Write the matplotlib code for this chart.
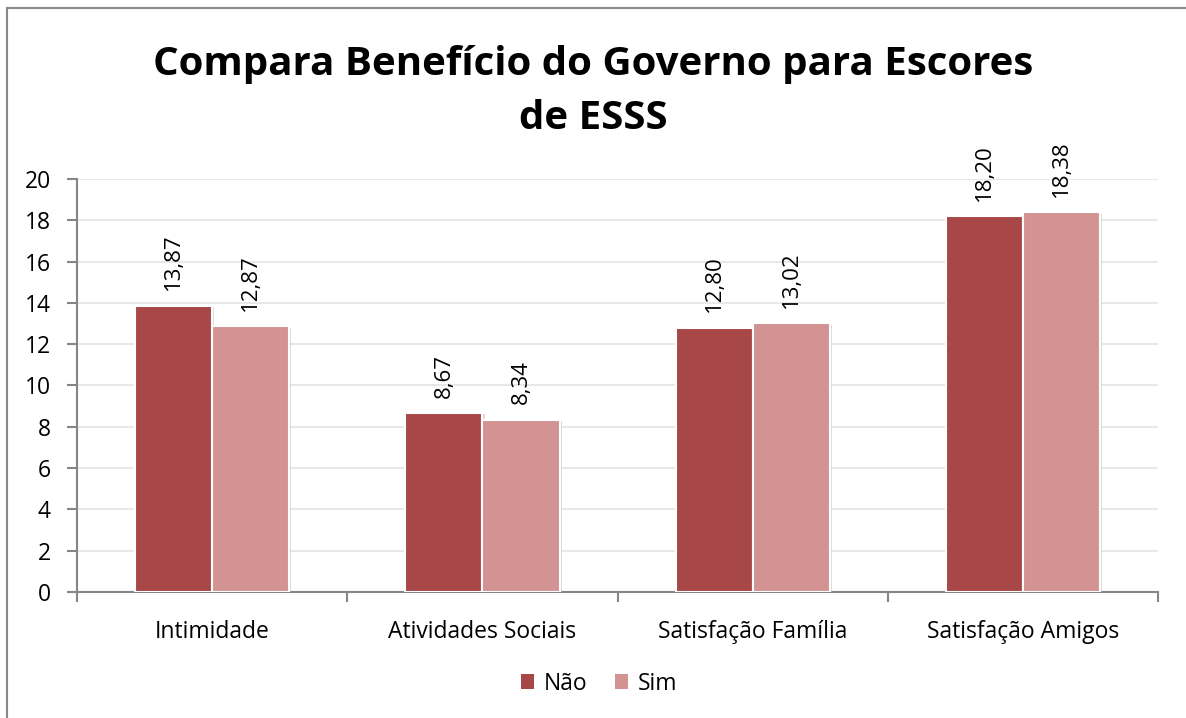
import matplotlib.pyplot as plt
import matplotlib.patheffects as pe
from matplotlib.lines import Line2D
from matplotlib.patches import Patch
import numpy as np

plt.rcParams['font.family'] = ['Open Sans', 'DejaVu Sans']

# mean ESSS scores by government benefit
categorias = ['Intimidade', 'Atividades Sociais', 'Satisfação Família', 'Satisfação Amigos']
nao = [13.87, 8.67, 12.80, 18.20]
sim = [12.87, 8.34, 13.02, 18.38]
series = ['Não', 'Sim']
cores = ['#A84747', '#D39393']

fig = plt.figure(figsize=(11.86, 7.18), dpi=100)
ax = fig.add_axes([0.065, 0.1755, 0.9115, 0.5752])

x = np.arange(len(categorias))
w = 0.285
sombra = [pe.SimplePatchShadow(offset=(1.5, -1), shadow_rgbFace='#BBBBBB', alpha=0.5), pe.Normal()]
for i, (vals, cor) in enumerate(zip([nao, sim], cores)):
    off = (i - 0.5) * w
    bars = ax.bar(x + off, vals, w, color=cor, edgecolor='white', linewidth=1.5, zorder=3)
    for b in bars:
        b.set_path_effects(sombra)
    for xi, v in zip(x + off, vals):
        ax.annotate(f'{v:.2f}'.replace('.', ','), (xi, v), xytext=(0, 11),
                    textcoords='offset points', rotation=90, ha='center', va='bottom',
                    fontsize=16, color='black')

ax.set_xlim(-0.5, len(categorias) - 0.5)
ax.set_ylim(0, 20)
ax.set_yticks(range(0, 21, 2))
ax.set_xticks(x)
ax.set_xticklabels(categorias, fontsize=16.5)
ax.tick_params(axis='x', length=0, pad=20)
ax.set_xticks(np.arange(-0.5, len(categorias), 1), minor=True)
ax.tick_params(axis='x', which='minor', length=7, color='#868686', width=1.5)
ax.tick_params(axis='y', labelsize=16.5, length=7, color='#868686', width=1.5, pad=12)
ax.yaxis.grid(True, color='#E8E8E8', linewidth=1.5, zorder=0)
ax.set_axisbelow(True)
for s in ['top', 'right']:
    ax.spines[s].set_visible(False)
for s in ['left', 'bottom']:
    ax.spines[s].set_color('#868686')
    ax.spines[s].set_linewidth(1.5)

fig.text(0.5, 0.873, 'Compara Benefício do Governo para Escores\nde ESSS', ha='center',
         va='center', fontsize=29, fontweight='bold', linespacing=1.5)

handles = [Patch(facecolor=c, edgecolor='none') for c in cores]
fig.legend(handles, series, loc='center', bbox_to_anchor=(0.505, 0.048), ncol=2,
           frameon=False, fontsize=16.5, handlelength=0.6, handleheight=0.6,
           handletextpad=0.4, columnspacing=1.2)

# chart area border (top and left edges)
fig.add_artist(Line2D([7 / 1186, 1], [1 - 8 / 718, 1 - 8 / 718], color='#898989',
                      linewidth=1.5, transform=fig.transFigure))
fig.add_artist(Line2D([7 / 1186, 7 / 1186], [0, 1 - 8 / 718], color='#898989',
                      linewidth=1.5, transform=fig.transFigure))

fig.savefig('out.png', dpi=100)
